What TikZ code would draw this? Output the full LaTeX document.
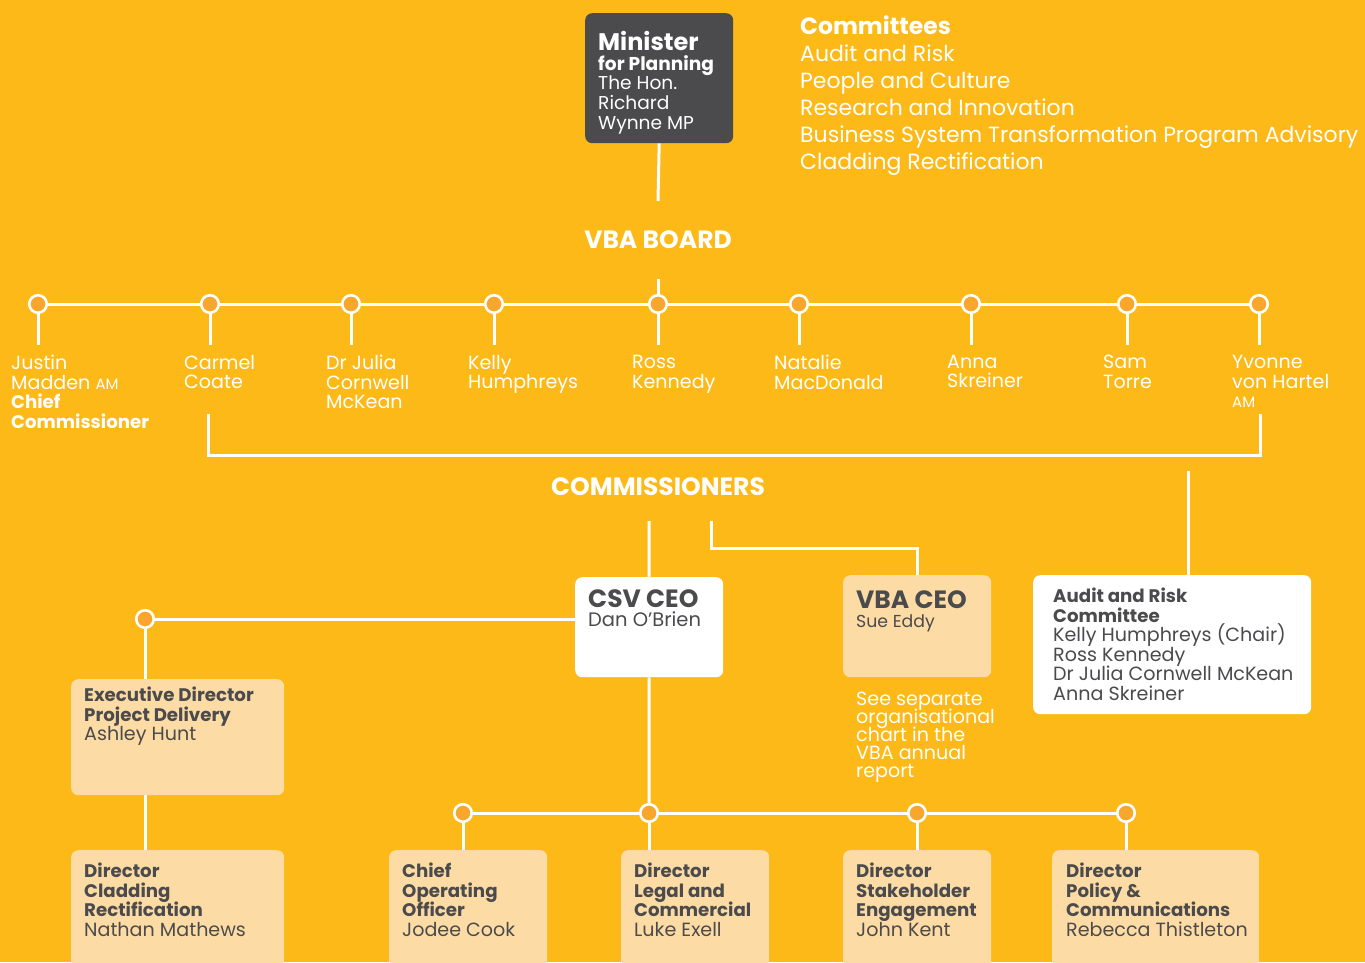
\documentclass[tikz,border=0pt]{standalone}
\usepackage{fontspec}
\setmainfont{Poppins}
\pgfdeclarelayer{bgl}\pgfdeclarelayer{lnl}\pgfsetlayers{bgl,lnl,main}
\definecolor{yel}{HTML}{FDB918}
\definecolor{dotc}{HTML}{F8A62C}
\definecolor{peach}{HTML}{FDDBA4}
\definecolor{darkg}{HTML}{4B4B4D}
\newcommand\fsBig{\fontsize{25}{24}\selectfont}
\newcommand\fsNm{\fontsize{19.1}{19.5}\selectfont}
\newcommand\fsCm{\fontsize{22}{27}\selectfont}
\newcommand\fsSm{\fontsize{15}{19.5}\selectfont}
\newcommand\bt[1]{{\fontsize{18.2}{19.5}\selectfont\bfseries #1}}
\setlength\lineskiplimit{-20pt}
\setlength\lineskip{0pt}
\begin{document}
\begin{tikzpicture}[x=1pt,y=-1pt,
  conn/.style={draw=white,line width=3pt},
  dot/.style={circle,fill=dotc,draw=white,line width=2.6pt,minimum size=17.5pt,inner sep=0pt},
  boxp/.style={rounded corners=7pt,fill=peach,inner sep=0pt,anchor=north west},
  boxw/.style={rounded corners=7pt,fill=white,inner sep=0pt,anchor=north west},
  txt/.style={inner sep=0pt,align=left,anchor=north west,text=white,font=\fsNm},
  dtxt/.style={txt,text=darkg},
  ttl/.style={inner sep=0pt,text=white,font=\fsBig\bfseries}]
\begin{pgfonlayer}{bgl}
\fill[yel] (0,0) rectangle (1365,962);
\end{pgfonlayer}
\useasboundingbox (0,0) rectangle (1365,962);

% Minister
\node[boxw,fill=darkg,minimum width=148pt,minimum height=130pt] (min) at (585,13) {};
\node[txt,font=\fontsize{18.6}{19.7}\selectfont] (mint) at (598,31) {{\fontsize{24}{19.7}\selectfont\bfseries Minister}\\\textbf{for Planning}\\The Hon.\\Richard\\Wynne MP};
\coordinate (minend) at (658,201);

% Committees
\node[txt,font=\fsCm] (comm) at (800,15) {{\fontsize{23.5}{27}\selectfont\bfseries Committees}\\Audit and Risk\\People and Culture\\Research and Innovation\\Business System Transformation Program Advisory\\Cladding Rectification};

% VBA board
\node[ttl] (vbab) at (658,240) {VBA BOARD};
\coordinate (vbaend) at (658,279);

\foreach \n/\x in {dj/38,dc/210,dju/351,dk/494,dr/658,dn/799,da/971,ds/1127,dy/1259}{
  \node[dot] (\n) at (\x,304) {};
}

\node[txt] (nj) at (11,355) {Justin\\Madden {\fsSm AM}\\\bt{Chief}\\\bt{Commissioner}};
\node[txt] (nc) at (184,355) {Carmel\\Coate};
\node[txt] (nju) at (326,355) {Dr Julia\\Cornwell\\McKean};
\node[txt] (nk) at (468,355) {Kelly\\Humphreys};
\node[txt] (nr) at (632,355) {Ross\\Kennedy};
\node[txt] (nn) at (774,355) {Natalie\\MacDonald};
\node[txt] (na) at (947,355) {Anna\\Skreiner};
\node[txt] (ns) at (1103,355) {Sam\\Torre};
\node[txt] (ny) at (1232,355) {Yvonne\\von Hartel\\{\fsSm AM}};

\coordinate (brl) at (208,414);
\coordinate (brr) at (1260,414);
\node[ttl] (coms) at (658,487) {COMMISSIONERS};
\coordinate (cs1) at (649,521);
\coordinate (cs2) at (711,521);
\coordinate (au1) at (1188,471);

% CEOs
\node[boxw,minimum width=148pt,minimum height=100pt] (csv) at (575,577) {};
\node[dtxt] (csvt) at (588,589) {{\fontsize{25}{22}\selectfont\bfseries CSV CEO}\\[0pt]{\fontsize{19.5}{20}\selectfont Dan O’Brien}};
\node[boxp,minimum width=148pt,minimum height=102pt] (vba) at (843,575) {};
\node[dtxt] (vbat) at (856,590) {{\fontsize{25}{22}\selectfont\bfseries VBA CEO}\\[0pt]{\fontsize{17.3}{18}\selectfont Sue Eddy}};
\node[txt,font=\fontsize{19.1}{18}\selectfont] (see) at (856,692) {See separate\\organisational\\chart in the\\VBA annual\\report};

% Audit
\node[boxw,minimum width=278pt,minimum height=139pt] (aud) at (1033,575) {};
\node[dtxt] (audt) at (1053,588) {\bt{Audit and Risk}\\\bt{Committee}\\Kelly Humphreys (Chair)\\Ross Kennedy\\Dr Julia Cornwell McKean\\Anna Skreiner};

% Left branch
\node[dot] (dex) at (145,619) {};
\node[boxp,minimum width=213pt,minimum height=116pt] (exe) at (71,679) {};
\node[dtxt] (exet) at (84,687) {\bt{Executive Director}\\\bt{Project Delivery}\\Ashley Hunt};
\node[boxp,minimum width=213pt,minimum height=130pt] (cla) at (71,850) {};
\node[dtxt] (clat) at (84,863) {\bt{Director}\\\bt{Cladding}\\\bt{Rectification}\\Nathan Mathews};

% Bottom row
\node[dot] (dcoo) at (463,813) {};
\node[dot] (dleg) at (649,813) {};
\node[dot] (dsta) at (917,813) {};
\node[dot] (dpol) at (1126,813) {};
\node[boxp,minimum width=158pt,minimum height=130pt] (coo) at (389,850) {};
\node[dtxt] (coot) at (402,863) {\bt{Chief}\\\bt{Operating}\\\bt{Officer}\\Jodee Cook};
\node[boxp,minimum width=148pt,minimum height=130pt] (leg) at (621,850) {};
\node[dtxt] (legt) at (634,863) {\bt{Director}\\\bt{Legal and}\\\bt{Commercial}\\Luke Exell};
\node[boxp,minimum width=148pt,minimum height=130pt] (sta) at (843,850) {};
\node[dtxt] (stat) at (856,863) {\bt{Director}\\\bt{Stakeholder}\\\bt{Engagement}\\John Kent};
\node[boxp,minimum width=207pt,minimum height=130pt] (pol) at (1052,850) {};
\node[dtxt] (polt) at (1066,863) {\bt{Director}\\\bt{Policy \&}\\\bt{Communications}\\Rebecca Thistleton};

\begin{pgfonlayer}{lnl}
\draw[conn] (min.south) -- (minend);
\draw[conn] (vbaend) -- (dr.center);
\draw[conn] (dj.center) -- (dy.center);
\foreach \n in {dj,dc,dju,dk,dr,dn,da,ds,dy}{\draw[conn] (\n.center) -- ++(0,41);}
\draw[conn] (brl) -- ++(0,41) -| (brr);
\draw[conn] (cs1) -- (csv.north);
\draw[conn] (cs2) |- (vba.north |- 0,548) -- (vba.north);
\draw[conn] (au1) -- (au1 |- aud.north);
\draw[conn] (dex.center) -- (dex -| csv.west);
\draw[conn] (dex.center) -- (dex |- exe.north);
\draw[conn] (dex |- exe.south) -- (dex |- cla.north);
\draw[conn] (csv.south) -- (dleg.center);
\draw[conn] (dcoo.center) -- (dpol.center);
\foreach \d/\b in {dcoo/coo,dleg/leg,dsta/sta,dpol/pol}{\draw[conn] (\d.center) -- (\d |- \b.north);}
\end{pgfonlayer}
\end{tikzpicture}
\end{document}
